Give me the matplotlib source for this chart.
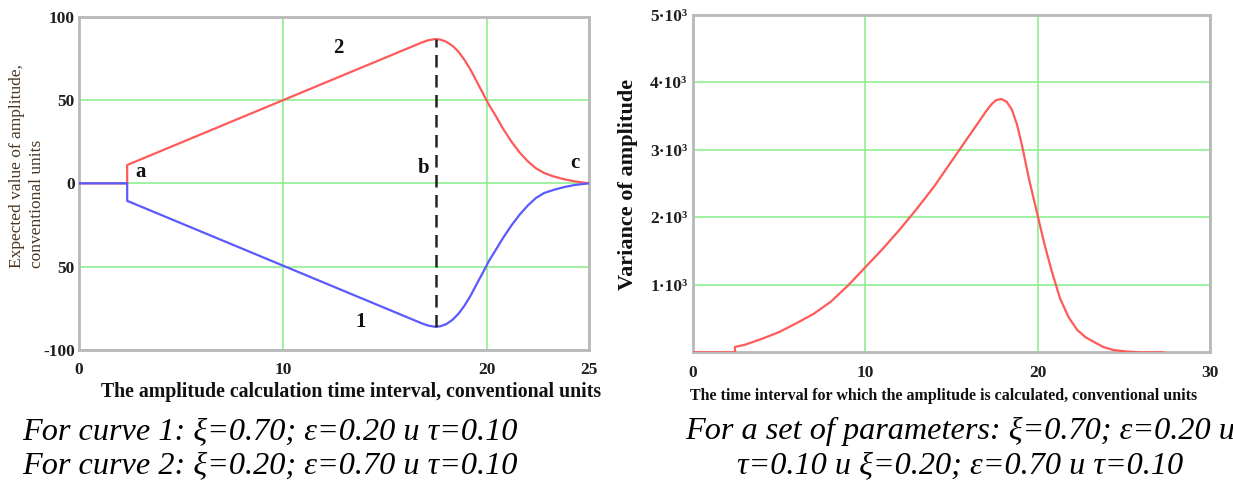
import numpy as np
import matplotlib
matplotlib.use("Agg")
import matplotlib.pyplot as plt

plt.rcParams['font.family'] = ['Liberation Serif', 'DejaVu Serif']

# left chart: expected value of amplitude (curve 2 red, curve 1 blue)
t_red = [0, 2.36, 2.36, 16.8, 17.1, 17.4, 17.7, 18.0, 18.3, 18.6, 18.9, 19.2, 19.5,
         19.8, 20.1, 20.4, 20.8, 21.2, 21.6, 22.0, 22.4, 22.8, 23.3, 23.8, 24.3, 25.0]
m_red = [0, 0, 11, 84.5, 85.8, 86.5, 86.3, 85.0, 82.6, 79.0, 74.0, 68.0, 61.0,
         54.0, 47.0, 41.0, 32.5, 25.0, 18.5, 13.2, 9.0, 6.2, 4.0, 2.4, 1.2, 0]
t_blue = [0, 2.36, 2.36, 16.8, 17.1, 17.4, 17.7, 18.0, 18.3, 18.6, 18.9, 19.2, 19.5,
          19.8, 20.1, 20.4, 20.8, 21.2, 21.6, 22.0, 22.4, 22.8, 23.3, 23.8, 24.3, 25.0]
m_blue = [0, 0, -10.5, -84, -85.3, -86, -85.8, -84.5, -82, -78.3, -73.3, -67.3, -60.3,
          -53.5, -46.5, -40.5, -32.5, -25.2, -18.8, -13.3, -8.8, -5.8, -3.8, -2.2, -1.0, 0]
b_x = 17.5
b_top, b_bottom = 86.5, -86

left_xticks = [0, 10, 20, 25]
left_yticks = [-100, -50, 0, 50, 100]
left_yticklabels = ['-100', '50', '0', '50', '100']

# right chart: variance of amplitude
t_var = [0, 2.44, 2.44, 3, 4, 5, 6, 7, 8, 9, 10, 11, 12, 13, 14, 15, 16, 16.6,
         17.0, 17.3, 17.6, 17.9, 18.2, 18.5, 18.8, 19.1, 19.5, 20.0, 20.4, 20.8,
         21.3, 21.8, 22.3, 22.8, 23.3, 23.8, 24.4, 25.2, 26.0, 27.3]
d_var = [0, 0, 80, 110, 200, 300, 430, 570, 750, 990, 1260, 1530, 1820, 2130,
         2460, 2830, 3200, 3420, 3570, 3670, 3740, 3755, 3715, 3600, 3380, 3060,
         2570, 2030, 1600, 1220, 800, 520, 330, 220, 150, 80, 34, 10, 0, 0]
right_xticks = [0, 10, 20, 30]
right_yticks = [1000, 2000, 3000, 4000, 5000]
right_yticklabels = ['1·10³', '2·10³', '3·10³', '4·10³', '5·10³']

red = '#ff5a5a'
blue = '#5a5aff'
grid_green = '#90ee90'
frame = '#b8b8b8'
tick_font = dict(fontsize=12.5, fontweight='bold', color='#1e1e1e')


def style_axes(ax):
    for s in ax.spines.values():
        s.set_color(frame)
        s.set_linewidth(2.0)
    ax.tick_params(length=0)
    ax.grid(True, color=grid_green, linewidth=1.2, zorder=0)
    ax.set_axisbelow(True)


fig = plt.figure(figsize=(12.33, 4.84), dpi=100)

ax1 = fig.add_axes([0.0641, 0.2769, 0.4136, 0.6886])
ax1.plot(t_red, m_red, color=red, lw=1.6, zorder=3)
ax1.plot(t_blue, m_blue, color=blue, lw=1.6, zorder=3)
ax1.vlines(b_x, b_bottom, b_top, colors='#222222', linestyles=(0, (5, 3)), lw=1.8, zorder=4)
ax1.set_xlim(0, 25)
ax1.set_ylim(-100, 100)
ax1.set_xticks(left_xticks)
ax1.set_xticklabels([str(v) for v in left_xticks], **tick_font)
ax1.set_yticks(left_yticks)
ax1.set_yticklabels(left_yticklabels, **tick_font)
style_axes(ax1)
ax1.tick_params(axis='x', pad=9)
ax1.tick_params(axis='y', pad=3)
for txt, x, y in [('2', 12.7, 81), ('1', 13.8, -83), ('a', 3.0, 7), ('b', 16.9, 9), ('c', 24.3, 12)]:
    ax1.text(x, y, txt, fontsize=15, fontweight='bold', ha='center', va='center', color='#111111')

fig.text(0.007, 0.446, 'Expected value of amplitude,\nconventional units', rotation=90,
         fontsize=12.5, color='#4a3520', ha='left', va='bottom', multialignment='left',
         linespacing=1.35)
fig.text(0.285, 0.19, 'The amplitude calculation time interval, conventional units',
         fontsize=14.3, fontweight='bold', ha='center', va='center', color='#111111')

ax2 = fig.add_axes([0.5620, 0.2721, 0.4193, 0.6969])
ax2.plot(t_var, d_var, color=red, lw=1.6, zorder=3)
ax2.set_xlim(0, 30)
ax2.set_ylim(0, 5000)
ax2.set_xticks(right_xticks)
ax2.set_xticklabels([str(v) for v in right_xticks], **tick_font)
ax2.set_yticks(right_yticks)
ax2.set_yticklabels(right_yticklabels, **tick_font)
style_axes(ax2)
ax2.tick_params(axis='x', pad=9)
ax2.tick_params(axis='y', pad=4)

fig.text(0.509, 0.618, 'Variance of amplitude', rotation=90, fontsize=16,
         fontweight='bold', ha='center', va='center', color='#111111')
fig.text(0.765, 0.182, 'The time interval for which the amplitude is calculated, conventional units',
         fontsize=11.5, fontweight='bold', ha='center', va='center', color='#111111')

cap = dict(fontsize=23.2, style='italic', color='#000000', va='center')
fig.text(0.018, 0.109, 'For curve 1: ξ=0.70; ε=0.20 и τ=0.10', ha='left', **cap)
fig.text(0.018, 0.037, 'For curve 2: ξ=0.20; ε=0.70 и τ=0.10', ha='left', **cap)
fig.text(0.779, 0.109, 'For a set of parameters: ξ=0.70; ε=0.20 и', ha='center', **cap)
fig.text(0.779, 0.037, 'τ=0.10 и ξ=0.20; ε=0.70 и τ=0.10', ha='center', **cap)

fig.savefig('out.png', dpi=100)
